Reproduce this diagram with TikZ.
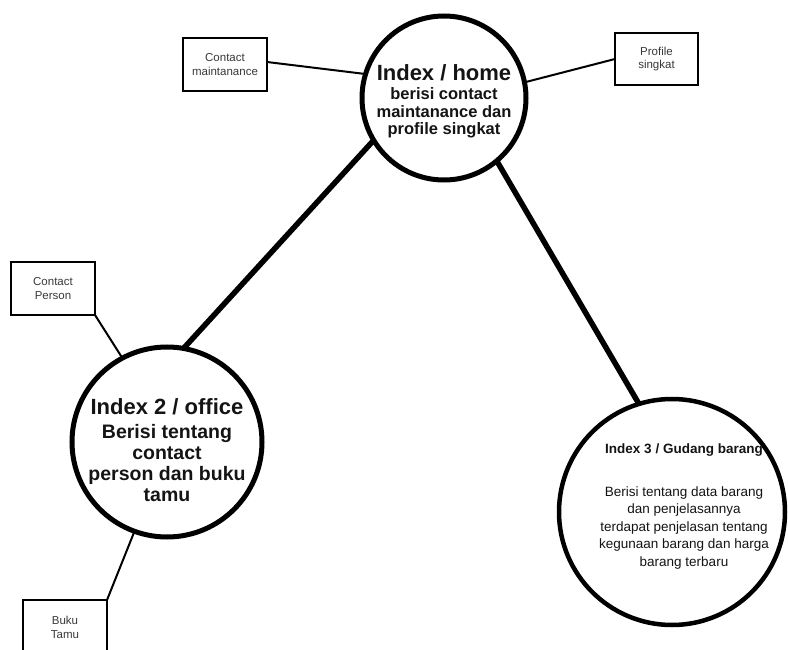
\documentclass[tikz,border=0pt]{standalone}
\usepackage{fontspec}
\setmainfont{Liberation Sans}
\begin{document}
\begin{tikzpicture}[x=1pt,y=-1pt,
  bigcircle/.style={circle,draw=black,line width=5pt,inner sep=0pt,outer sep=0pt},
  smallbox/.style={draw=black,line width=2.2pt,inner sep=0pt,outer sep=0pt,anchor=north west},
  boxtext/.style={text=black!78,align=center,font=\fontsize{11.5}{13.5}\selectfont},
  thinline/.style={line width=2pt,black},
  thickline/.style={line width=5.5pt,black},
  txt/.style={text=black!92,align=center,inner sep=0pt}]
\clip (0,0) rectangle (788,650);
\useasboundingbox (0,0) rectangle (788,650);
% circles
\node[bigcircle,minimum size=164pt] (home) at (444,98) {};
\node[bigcircle,minimum size=190pt] (office) at (167,442) {};
\node[bigcircle,line width=4.5pt,minimum size=226pt] (gud) at (672,512) {};
% boxes
\node[smallbox,minimum width=84pt,minimum height=53pt] (cm) at (183,38) {};
\node[smallbox,minimum width=83pt,minimum height=52pt] (ps) at (615,33) {};
\node[smallbox,minimum width=84pt,minimum height=53pt] (cp) at (11,262) {};
\node[smallbox,minimum width=84pt,minimum height=60pt] (bt) at (23,600) {};
% box texts
\node[boxtext] (cmt) at (cm.center) {Contact\\maintanance};
\node[boxtext] (pst) at (ps.center) {Profile\\singkat};
\node[boxtext] (cpt) at (53,288.5) {Contact\\Person};
\node[boxtext] (btt) at (65,627.5) {Buku\\Tamu};
% circle texts
\node[txt,font=\bfseries\fontsize{22}{26}\selectfont] (ht) at (444,73) {Index / home};
\node[txt,font=\bfseries\fontsize{16.5}{17.5}\selectfont] (hb) at (444,113) {berisi contact\\maintanance dan\\profile singkat};
\node[txt,font=\bfseries\fontsize{22}{26}\selectfont] (ot) at (167,407) {Index 2 / office};
\node[txt,font=\bfseries\fontsize{19.5}{21}\selectfont] (ob) at (167,463.5) {Berisi tentang\\contact\\person dan buku\\tamu};
\node[txt,font=\bfseries\fontsize{13.5}{16}\selectfont] (gt) at (684,450) {Index 3 / Gudang barang};
\node[txt,font=\fontsize{13.5}{17.5}\selectfont] (gb) at (684,528) {Berisi tentang data barang\\dan penjelasannya\\terdapat penjelasan tentang\\kegunaan barang dan harga\\barang terbaru};
% connectors
\draw[thinline] (cm.east |- 0,62) -- (home.163);
\draw[thinline] (home.11) -- (ps.west);
\draw[thickline] (home.211) -- (office.80);
\draw[thickline] (home.-50) -- (gud.107);
\draw[thinline] (cp.south east) -- (office.118);
\draw[thinline] (office.250) -- (bt.north east);
\end{tikzpicture}
\end{document}
